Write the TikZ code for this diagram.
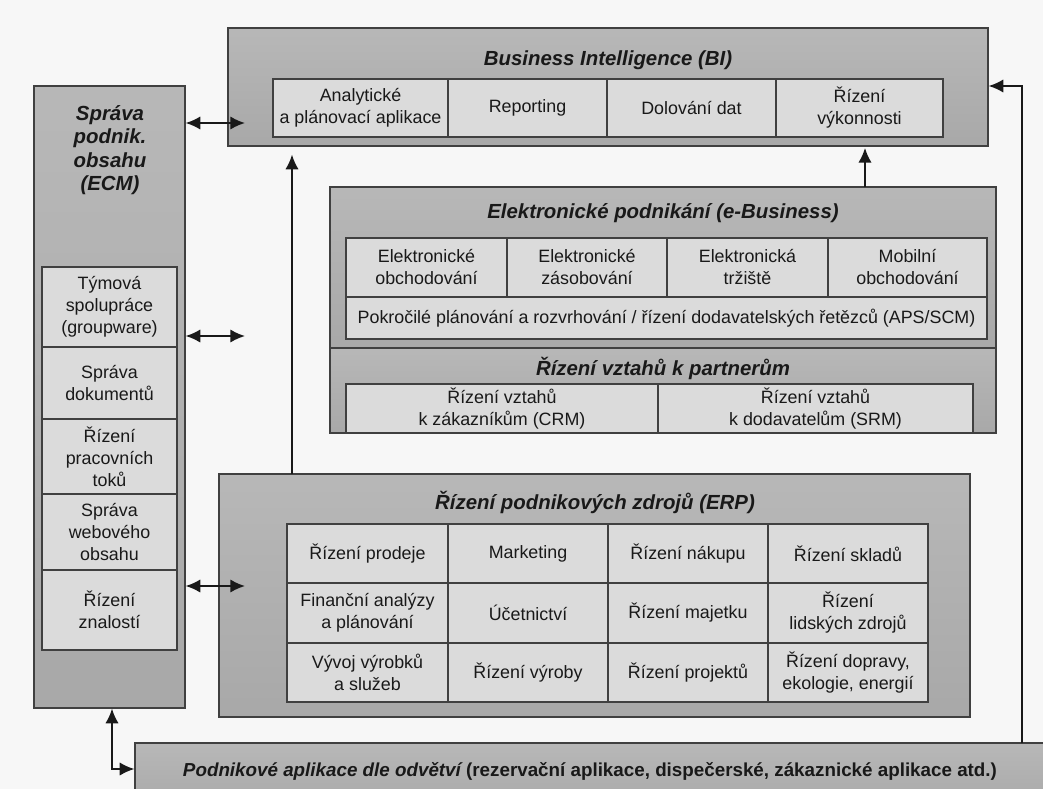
\documentclass[tikz,border=0pt]{standalone}
\usepackage{fontspec}
\setmainfont{Liberation Sans}
\usetikzlibrary{fit,arrows.meta}

% type sizes for cell texts and block titles
\newcommand\celltxt{\fontsize{13.4}{16.5}\selectfont}
\newcommand\ttltxt{\fontsize{15.3}{17.5}\selectfont\bfseries\itshape}

% a framed cell spanning two corners, with its text centred in it
\newcommand\cellnode[4]{%
  \node[cell, fit={#2 #3}] (#1) {};
  \node[celltext] (#1-t) at (#1.center) {#4};}

\begin{document}
\begin{tikzpicture}[x=0.75pt,y=-0.75pt,
  outer/.style={draw=black!75, line width=0.9pt, top color=black!28, bottom color=black!34, inner sep=0pt},
  cell/.style={draw=black!75, line width=0.9pt, fill=black!14, inner sep=0pt},
  celltext/.style={align=center, inner sep=0pt, font=\celltxt, text=black!90},
  ttl/.style={align=center, inner sep=0pt, font=\ttltxt, text=black!90},
  conn/.style={line width=1.4pt, draw=black!90},
  tips/.style={arrows={-Latex[length=11pt,width=10pt]}},
  dtips/.style={arrows={Latex[length=11pt,width=10pt]-Latex[length=11pt,width=10pt]}}
]
\useasboundingbox (0,0) rectangle (1043,789);
\clip (0,0) rectangle (1043,789);
\fill[black!3] (0,0) rectangle (1043,789);

% ---------- Business Intelligence ----------
\node[outer, fit={(228,28) (988,146)}] (bi) {};
\node[ttl] (bititle) at (608,60) {Business Intelligence (BI)};
\cellnode{bi1}{(273,79)}{(448,137)}{Analytické\\a plánovací aplikace}
\cellnode{bi2}{(448,79)}{(607,137)}{Reporting}
\cellnode{bi3}{(607,79)}{(776,137)}{Dolování dat}
\cellnode{bi4}{(776,79)}{(943,137)}{Řízení\\výkonnosti}

% ---------- Enterprise content management ----------
\node[outer, fit={(34,86) (185,708)}] (ecm) {};
\node[ttl] (ecmtitle) at (110,150) {Správa\\podnik.\\obsahu\\(ECM)};
\cellnode{ecm1}{(42,267)}{(177,347)}{Týmová\\spolupráce\\(groupware)}
\cellnode{ecm2}{(42,347)}{(177,419)}{Správa\\dokumentů}
\cellnode{ecm3}{(42,419)}{(177,494)}{Řízení\\pracovních\\toků}
\cellnode{ecm4}{(42,494)}{(177,570)}{Správa\\webového\\obsahu}
\cellnode{ecm5}{(42,570)}{(177,650)}{Řízení\\znalostí}

% ---------- e-Business ----------
\node[outer, fit={(330,187) (996,348)}] (eb) {};
\node[ttl] (ebtitle) at (663,213) {Elektronické podnikání (e-Business)};
\cellnode{eb1}{(346,238)}{(507,297)}{Elektronické\\obchodování}
\cellnode{eb2}{(507,238)}{(667,297)}{Elektronické\\zásobování}
\cellnode{eb3}{(667,238)}{(828,297)}{Elektronická\\tržiště}
\cellnode{eb4}{(828,238)}{(987,297)}{Mobilní\\obchodování}
\cellnode{eb5}{(346,297)}{(987,339)}{Pokročilé plánování a rozvrhování / řízení dodavatelských řetězců (APS/SCM)}

% ---------- partner relationship management ----------
\node[outer, fit={(330,348) (996,433)}] (prm) {};
\node[ttl] (prmtitle) at (663,368) {Řízení vztahů k partnerům};
\cellnode{prm1}{(346,384)}{(658,433)}{Řízení vztahů\\k zákazníkům (CRM)}
\cellnode{prm2}{(658,384)}{(973,433)}{Řízení vztahů\\k dodavatelům (SRM)}

% ---------- ERP ----------
\node[outer, fit={(219,474) (970,717)}] (erp) {};
\node[ttl] (erptitle) at (595,502) {Řízení podnikových zdrojů (ERP)};
\cellnode{erp11}{(287,524)}{(448,583)}{Řízení prodeje}
\cellnode{erp12}{(448,524)}{(608,583)}{Marketing}
\cellnode{erp13}{(608,524)}{(768,583)}{Řízení nákupu}
\cellnode{erp14}{(768,524)}{(928,583)}{Řízení skladů}
\cellnode{erp21}{(287,583)}{(448,643)}{Finanční analýzy\\a plánování}
\cellnode{erp22}{(448,583)}{(608,643)}{Účetnictví}
\cellnode{erp23}{(608,583)}{(768,643)}{Řízení majetku}
\cellnode{erp24}{(768,583)}{(928,643)}{Řízení\\lidských zdrojů}
\cellnode{erp31}{(287,643)}{(448,702)}{Vývoj výrobků\\a služeb}
\cellnode{erp32}{(448,643)}{(608,702)}{Řízení výroby}
\cellnode{erp33}{(608,643)}{(768,702)}{Řízení projektů}
\cellnode{erp34}{(768,643)}{(928,702)}{Řízení dopravy,\\ekologie, energií}

% ---------- industry applications ----------
\node[outer, fit={(135,743) (1060,810)}] (ind) {};
\node[inner sep=0pt, font=\fontsize{14.1}{17}\selectfont\bfseries, text=black!90] (indtxt) at (590,771)
  {\itshape Podnikové aplikace dle odvětví\upshape{} (rezervační aplikace, dispečerské, zákaznické aplikace atd.)};

% ---------- connectors ----------
\coordinate (biIn) at (245,123);
\coordinate (gwIn) at (245,336);
\coordinate (erpIn) at (245,586);
\coordinate (erpUp) at (292,474);
\coordinate (ebUp) at (865,187);
\coordinate (indUp) at (1022,743);
\coordinate (fbRow) at (0,86);
\coordinate (ecmLink) at (112,769);

\draw[conn, dtips] (ecm.east |- biIn) -- (biIn);
\draw[conn, dtips] (ecm.east |- gwIn) -- (gwIn);
\draw[conn, dtips] (ecm.east |- erpIn) -- (erpIn);
\draw[conn, tips, shorten >=6pt] (erpUp) -- (erpUp |- bi.south);
\draw[conn, tips, shorten >=1pt] (ebUp) -- (ebUp |- bi.south);
\draw[conn, tips] (indUp) -- (indUp |- fbRow) -- (bi.east |- fbRow);
\draw[conn, dtips] (ecm.south -| ecmLink) -- (ecmLink) -- (ind.west |- ecmLink);
\end{tikzpicture}
\end{document}
